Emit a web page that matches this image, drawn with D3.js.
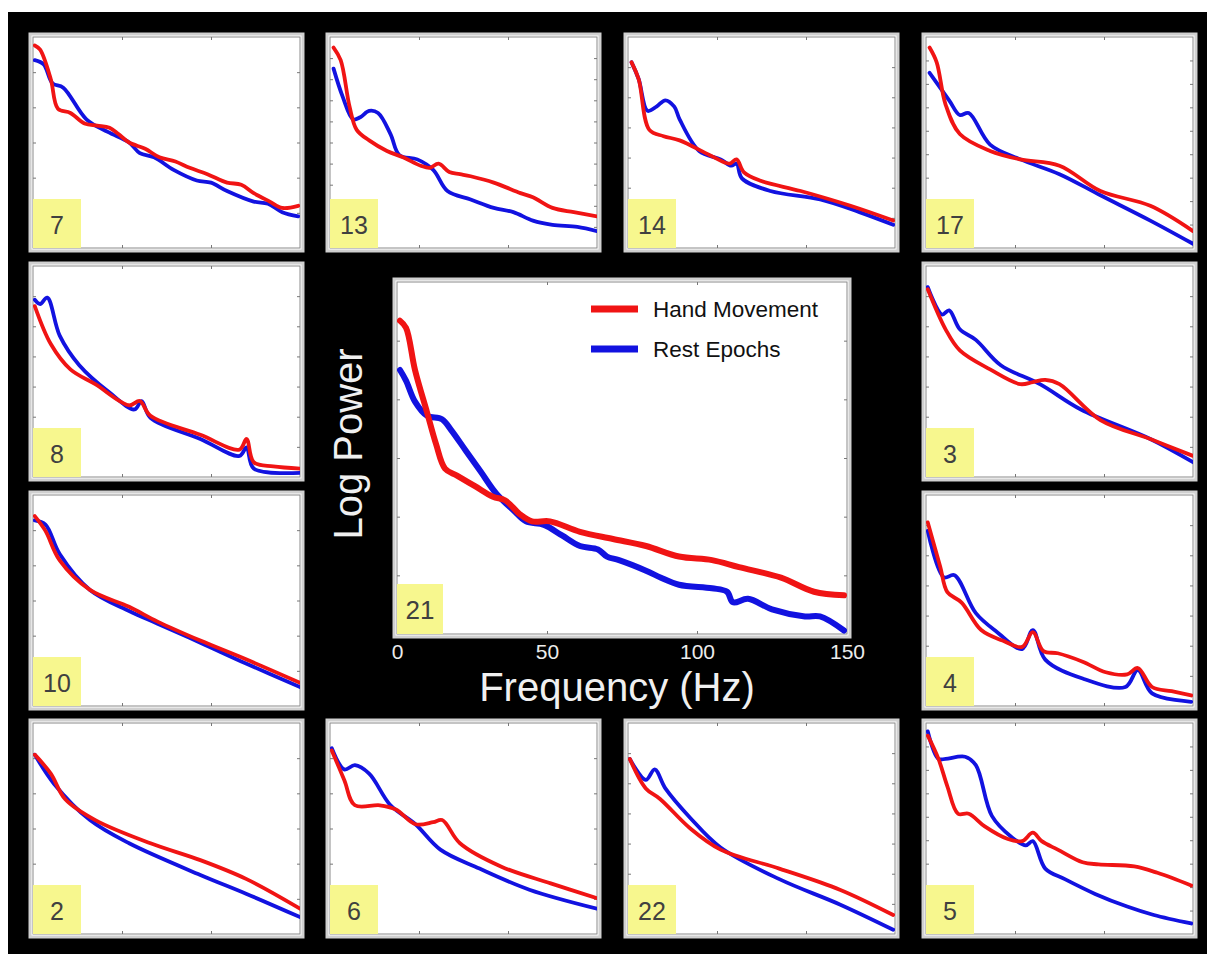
<!DOCTYPE html>
<meta charset='utf-8'>
<style>
  body { margin: 0; background: #fff; }
  text { font-family: Arial, 'Liberation Sans', sans-serif; }
</style>
<div id='chart'></div>
<script src='https://d3js.org/d3.v7.min.js'></script>
<script>

  // [frequency (Hz), relative log power 0-100]
  var p7Hand = [[1,96],[4,94],[10,80],[14,66],[21,64],[29,59],[36,58],[43,57],[48,54],[54,50],[63,47],[71,43],[80,41],[88,38],[98,35],[109,31],[117,30],[124,26],[133,22],[140,19],[149,20]];
  var p7Rest = [[1,89],[6,87],[11,78],[17,76],[30,61],[42,55],[54,50],[60,45],[68,43],[79,37],[92,32],[100,31],[109,27],[124,22],[132,21],[140,17],[149,15]];
  var p13Hand = [[2,95],[6,89],[11,67],[15,56],[22,51],[32,46],[41,43],[51,39],[56,38],[61,40],[67,36],[73,35],[79,34],[92,31],[107,26],[114,24],[125,19],[137,17],[150,15]];
  var p13Rest = [[2,85],[7,72],[13,61],[17,62],[22,65],[27,64],[34,54],[39,44],[49,42],[58,37],[66,27],[79,23],[92,19],[103,17],[114,13],[125,11],[139,10],[150,8]];
  var p14Hand = [[2,88],[6,80],[12,56],[20,53],[29,51],[46,44],[57,40],[61,42],[65,36],[74,32],[97,27],[125,20],[149,13]];
  var p14Rest = [[2,88],[6,80],[11,65],[16,67],[21,70],[26,67],[29,61],[40,46],[52,42],[58,39],[61,40],[64,33],[80,27],[108,23],[130,17],[149,11]];
  var p17Hand = [[2,95],[6,88],[11,68],[19,54],[36,46],[53,42],[75,39],[98,27],[126,20],[150,8]];
  var p17Rest = [[2,83],[13,70],[19,63],[24,64],[36,49],[53,42],[75,35],[98,25],[126,13],[150,2]];
  var p8Hand = [[1,81],[10,63],[21,51],[35,44],[54,34],[60,36],[66,29],[94,20],[116,13],[120,18],[124,7],[135,5],[150,4]];
  var p8Rest = [[1,84],[4,82],[8,85],[15,67],[26,53],[43,40],[57,32],[61,36],[66,28],[94,18],[116,10],[120,14],[124,4],[150,2]];
  var p3Hand = [[1,89],[11,70],[19,60],[36,51],[53,44],[60,45],[67,46],[75,44],[98,27],[126,18],[150,10]];
  var p3Rest = [[1,90],[9,77],[13,79],[19,70],[28,65],[42,53],[64,44],[87,32],[126,18],[150,7]];
  var p10Hand = [[1,90],[7,83],[15,69],[32,55],[54,47],[70,40],[94,31],[120,22],[150,11]];
  var p10Rest = [[1,88],[7,86],[15,72],[32,55],[54,45],[70,39],[94,30],[120,20],[150,9]];
  var p4Hand = [[1,87],[8,66],[12,54],[20,49],[31,36],[43,31],[54,28],[60,35],[66,26],[74,25],[88,21],[101,16],[113,15],[119,18],[127,9],[138,7],[149,5]];
  var p4Rest = [[1,83],[10,61],[16,62],[28,44],[40,35],[54,27],[60,36],[67,22],[88,13],[112,9],[119,17],[127,6],[149,2]];
  var p2Hand = [[1,85],[10,76],[18,64],[35,54],[66,43],[94,35],[120,26],[150,12]];
  var p2Rest = [[1,85],[12,71],[32,54],[54,43],[94,28],[120,19],[150,8]];
  var p6Hand = [[1,87],[8,73],[14,61],[28,61],[37,59],[48,52],[58,53],[63,54],[73,43],[96,32],[124,24],[150,17]];
  var p6Rest = [[1,88],[8,78],[14,80],[22,76],[34,61],[48,52],[62,40],[84,31],[112,21],[150,12]];
  var p22Hand = [[1,83],[10,69],[18,64],[35,50],[52,40],[85,31],[119,21],[149,9]];
  var p22Rest = [[1,83],[10,73],[15,78],[21,69],[35,55],[52,41],[85,26],[119,14],[149,2]];
  var p5Hand = [[1,94],[7,83],[12,70],[18,57],[24,57],[33,51],[46,45],[54,44],[60,48],[65,44],[74,40],[88,34],[97,33],[117,32],[130,29],[149,23]];
  var p5Rest = [[1,96],[7,83],[11,83],[22,84],[28,80],[37,56],[48,46],[56,42],[60,44],[67,31],[78,26],[95,19],[113,13],[128,9],[149,5]];
  var p21Hand = [[1,89],[3,87],[6,75],[10,63],[13,54],[16,47],[20,45],[26,42],[32,39],[36,38],[41,34],[45,32],[51,32],[61,29],[72,27],[83,25],[94,22],[105,21],[114,19],[128,16],[139,12],[149,11]];
  var p21Rest = [[1,75],[3,72],[6,66],[10,62],[15,61],[18,58],[23,52],[28,46],[33,40],[39,35],[43,32],[49,31],[55,28],[61,25],[67,24],[70,22],[74,21],[83,18],[88,16],[94,14],[105,13],[110,12],[112,9],[117,10],[125,7],[136,5],[141,5],[149,1]];

  var seriesNames = ['Hand Movement', 'Rest Epochs'];
  var xTickLabels = [0, 50, 100, 150];

  var panels = [
    {label: '7',  col: 0, row: 0, hand: p7Hand,  rest: p7Rest,  yDiv: 6},
    {label: '13', col: 1, row: 0, hand: p13Hand, rest: p13Rest, yDiv: 10},
    {label: '14', col: 2, row: 0, hand: p14Hand, rest: p14Rest, yDiv: 7},
    {label: '17', col: 3, row: 0, hand: p17Hand, rest: p17Rest, yDiv: 9},
    {label: '8',  col: 0, row: 1, hand: p8Hand,  rest: p8Rest,  yDiv: 7},
    {label: '3',  col: 3, row: 1, hand: p3Hand,  rest: p3Rest,  yDiv: 7},
    {label: '10', col: 0, row: 2, hand: p10Hand, rest: p10Rest, yDiv: 6},
    {label: '4',  col: 3, row: 2, hand: p4Hand,  rest: p4Rest,  yDiv: 7},
    {label: '2',  col: 0, row: 3, hand: p2Hand,  rest: p2Rest,  yDiv: 6},
    {label: '6',  col: 1, row: 3, hand: p6Hand,  rest: p6Rest,  yDiv: 6},
    {label: '22', col: 2, row: 3, hand: p22Hand, rest: p22Rest, yDiv: 7},
    {label: '5',  col: 3, row: 3, hand: p5Hand,  rest: p5Rest,  yDiv: 9}
  ];
  var center = {label: '21', hand: p21Hand, rest: p21Rest, yDiv: 6};

  var W = 1207, H = 954;
  var colX = [30, 327, 625, 923], rowY = [34, 263, 492, 720];
  var pw = 273, ph = 217, pad = 3;
  var red = '#f01414', blue = '#1212e0';

  var svg = d3.select('#chart')
    .append('svg')
      .attr('width', W)
      .attr('height', H);

  svg.append('rect')
    .attr('x', 8).attr('y', 12)
    .attr('width', W - 8).attr('height', H - 12)
    .attr('fill', '#000');

  function drawPanel(px, py, w, h, p, lw, boxW, boxH, fs) {
    var g = svg.append('g').attr('transform', 'translate(' + px + ',' + py + ')');

    g.append('rect')
      .attr('width', w).attr('height', h)
      .attr('fill', '#fff')
      .attr('stroke', '#d0d0d0')
      .attr('stroke-width', 3);

    var x = d3.scaleLinear().domain([0, 150]).range([pad, w - pad]);
    var y = d3.scaleLinear().domain([0, 100]).range([h - pad, pad]);
    var yt = d3.range(1, p.yDiv).map(function(k) { return 100 * k / p.yDiv; });

    g.append('rect')
      .attr('x', pad).attr('y', pad)
      .attr('width', w - 2 * pad).attr('height', h - 2 * pad)
      .attr('fill', 'none').attr('stroke', '#8a8a8a').attr('stroke-width', 1);

    // matlab style inward ticks on all four sides
    var axes = [
      [d3.axisTop(x).tickValues([50, 100]), 'translate(0,' + pad + ')'],
      [d3.axisBottom(x).tickValues([50, 100]), 'translate(0,' + (h - pad) + ')'],
      [d3.axisLeft(y).tickValues(yt), 'translate(' + pad + ',0)'],
      [d3.axisRight(y).tickValues(yt), 'translate(' + (w - pad) + ',0)']
    ];
    axes.forEach(function(a) {
      var ag = g.append('g')
        .attr('transform', a[1])
        .call(a[0].tickSize(-3).tickFormat(''));
      ag.select('.domain').remove();
      ag.selectAll('line').attr('stroke', '#777');
    });

    var clipId = 'clip' + p.label;
    g.append('clipPath').attr('id', clipId)
      .append('rect')
        .attr('x', pad).attr('y', pad)
        .attr('width', w - 2 * pad).attr('height', h - 2 * pad);

    var line = d3.line()
      .x(function(d) { return x(d[0]); })
      .y(function(d) { return y(d[1]); })
      .curve(d3.curveCatmullRom.alpha(0.5));

    [[p.rest, blue], [p.hand, red]].forEach(function(s) {
      g.append('path')
        .datum(s[0])
        .attr('clip-path', 'url(#' + clipId + ')')
        .attr('d', line)
        .attr('fill', 'none')
        .attr('stroke', s[1])
        .attr('stroke-width', lw)
        .attr('stroke-linejoin', 'round')
        .attr('stroke-linecap', 'round');
    });

    g.append('rect')
      .attr('x', pad).attr('y', h - pad - boxH)
      .attr('width', boxW).attr('height', boxH)
      .attr('fill', '#f7f78e');
    g.append('text')
      .attr('x', pad + boxW / 2)
      .attr('y', h - pad - boxH / 2 + fs * 0.4)
      .attr('text-anchor', 'middle')
      .attr('font-size', fs)
      .attr('fill', '#404040')
      .text(p.label);

    return {g: g, x: x, y: y};
  }

  panels.forEach(function(p) {
    drawPanel(colX[p.col], rowY[p.row], pw, ph, p, 3.8, 48, 49, 25);
  });

  // central panel
  var cx = 394, cy = 279, cw = 456, ch = 358;
  var c = drawPanel(cx, cy, cw, ch, center, 6, 46, 50, 26);

  var xAxis = c.g.append('g')
    .attr('transform', 'translate(0,' + ch + ')')
    .call(d3.axisBottom(c.x).tickValues(xTickLabels).tickSize(0).tickPadding(7));
  xAxis.select('.domain').remove();
  xAxis.selectAll('text')
    .attr('font-size', 21)
    .attr('fill', '#ececec')
    .style('font-family', 'Arial, Liberation Sans, sans-serif');

  svg.append('text')
    .attr('x', 617)
    .attr('y', 701)
    .attr('text-anchor', 'middle')
    .attr('font-size', 40)
    .attr('fill', '#f0f0f0')
    .text('Frequency (Hz)');

  svg.append('text')
    .attr('transform', 'translate(362,444) rotate(-90)')
    .attr('text-anchor', 'middle')
    .attr('font-size', 40)
    .attr('fill', '#f0f0f0')
    .text('Log Power');

  // legend
  var legend = c.g.append('g');
  [[seriesNames[0], red], [seriesNames[1], blue]].forEach(function(s, i) {
    var ly = 30 + i * 40;
    legend.append('line')
      .attr('x1', 197).attr('x2', 244)
      .attr('y1', ly).attr('y2', ly)
      .attr('stroke', s[1])
      .attr('stroke-width', 7);
    legend.append('text')
      .attr('x', 259)
      .attr('y', ly + 8)
      .attr('font-size', 22.5)
      .attr('fill', '#111')
      .text(s[0]);
  });

</script>
